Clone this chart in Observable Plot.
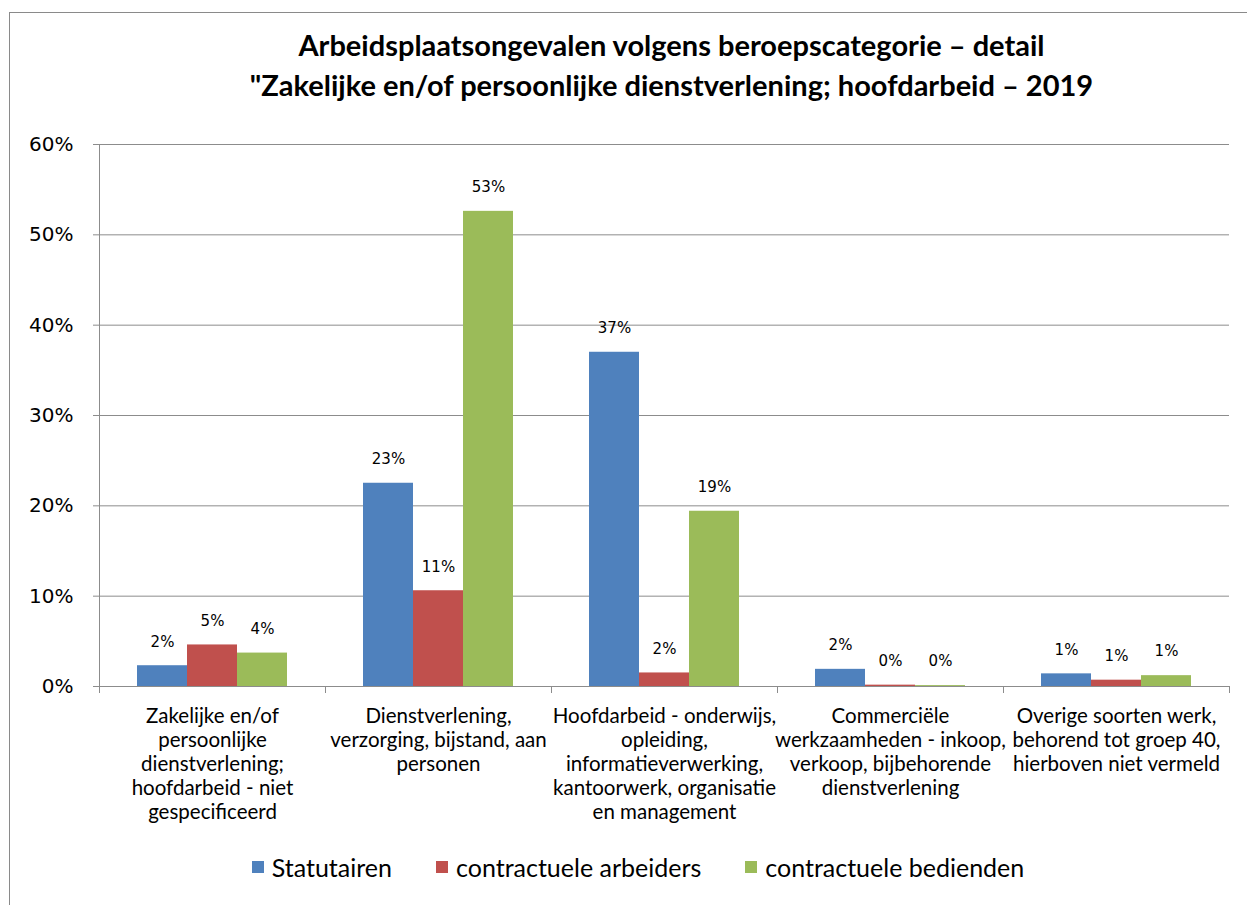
<!DOCTYPE html>
<html>
<head>
<meta charset="utf-8">
<script src="https://cdn.jsdelivr.net/npm/d3@7"></script>
<script src="https://cdn.jsdelivr.net/npm/@observablehq/plot@0.6"></script>
<style>
  html, body { margin: 0; padding: 0; background: #fff; width: 1247px; height: 905px; overflow: hidden; }
  #frame { position: absolute; left: 9px; top: 12px; width: 1300px; height: 1000px; border: 1px solid #8a8a8a; box-sizing: border-box; }
  #title { position: absolute; left: 0; top: 25px; width: 1247px; box-sizing: border-box; padding-left: 96px; text-align: center;
           font-family: Lato, sans-serif; font-weight: bold; font-size: 29px; line-height: 40px; color: #000; }
  #chart { position: absolute; left: 0; top: 130px; }
  #legend { position: absolute; left: 0; top: 851px; width: 1247px; display: flex; justify-content: center; padding-left: 29px; box-sizing: border-box;
            font-family: Lato, sans-serif; font-size: 25px; color: #000; line-height: 32px; }
  .item { display: flex; align-items: center; margin: 0 22px; }
  .sw { width: 12px; height: 12px; margin-right: 8px; }
</style>
</head>
<body>
<div id="frame"></div>
<div id="title"></div>
<div id="chart"></div>
<div id="legend"></div>
<script>
const titleLines = [
  "Arbeidsplaatsongevalen volgens beroepscategorie – detail",
  "\"Zakelijke en/of persoonlijke dienstverlening; hoofdarbeid – 2019"
];
const categories = [
  "Zakelijke en/of\npersoonlijke\ndienstverlening;\nhoofdarbeid - niet\ngespecificeerd",
  "Dienstverlening,\nverzorging, bijstand, aan\npersonen",
  "Hoofdarbeid - onderwijs,\nopleiding,\ninformatieverwerking,\nkantoorwerk, organisatie\nen management",
  "Commerciële\nwerkzaamheden - inkoop,\nverkoop, bijbehorende\ndienstverlening",
  "Overige soorten werk,\nbehorend tot groep 40,\nhierboven niet vermeld"
];
const series = ["Statutairen", "contractuele arbeiders", "contractuele bedienden"];
const statutairen = [2.3, 22.5, 37.0, 1.9, 1.4];
const arbeiders = [4.6, 10.6, 1.5, 0.15, 0.7];
const bedienden = [3.7, 52.6, 19.4, 0.1, 1.2];
const yTicks = [0, 10, 20, 30, 40, 50, 60];
const colors = ["#4F81BD", "#C0504D", "#9BBB59"];

const values = [statutairen, arbeiders, bedienden];
const data = [];
categories.forEach((c, i) => series.forEach((s, j) => data.push({category: c, series: s, value: values[j][i]})));

document.getElementById("title").innerHTML = titleLines.map(t => `<div>${t}</div>`).join("");

const W = 1247, H = 720, mt = 14, mb = 164, ml = 98, mr = 17;
const innerH = H - mt - mb;
const catFont = 20.5;

const chart = Plot.plot({
  width: W, height: H,
  marginTop: mt, marginBottom: mb, marginLeft: ml, marginRight: mr,
  fx: {domain: categories, padding: 0, axis: null, label: null},
  x: {domain: series, paddingInner: 0, paddingOuter: 0.75, axis: null, label: null},
  y: {domain: [0, 60], axis: null, label: null},
  color: {domain: series, range: colors},
  style: {fontFamily: "DejaVu Sans, sans-serif", color: "#000", background: "transparent"},
  marks: [
    Plot.gridY(yTicks, {stroke: "#8c8c8c", strokeOpacity: 1, strokeWidth: 1}),
    Plot.axisY(yTicks, {tickSize: 6, tickPadding: 20, tickFormat: d => d + "%", fontSize: 20, stroke: "#8c8c8c", fill: "#000"}),
    Plot.frame({anchor: "left", facet: "super", stroke: "#8c8c8c"}),
    Plot.frame({anchor: "left", insetTop: innerH, insetBottom: -6, stroke: "#8c8c8c"}),
    Plot.frame({anchor: "right", insetTop: innerH, insetBottom: -6, stroke: "#8c8c8c"}),
    Plot.barY(data, {fx: "category", x: "series", y: "value", fill: "series"}),
    Plot.ruleY([0], {stroke: "#8c8c8c"}),
    Plot.text(data, {fx: "category", x: "series", y: "value", text: d => Math.round(d.value) + "%", dy: -24, fontSize: 15, fill: "#000"}),
    Plot.text(categories, {fx: d => d, text: d => d, frameAnchor: "bottom", lineAnchor: "top", dy: 19, fontSize: catFont, lineHeight: 24 / catFont, fontFamily: "Lato, sans-serif", fill: "#000"})
  ]
});
document.getElementById("chart").appendChild(chart);

document.getElementById("legend").innerHTML = series.map((s, i) =>
  `<div class="item"><div class="sw" style="background:${colors[i]}"></div><span>${s}</span></div>`).join("");
</script>
</body>
</html>
